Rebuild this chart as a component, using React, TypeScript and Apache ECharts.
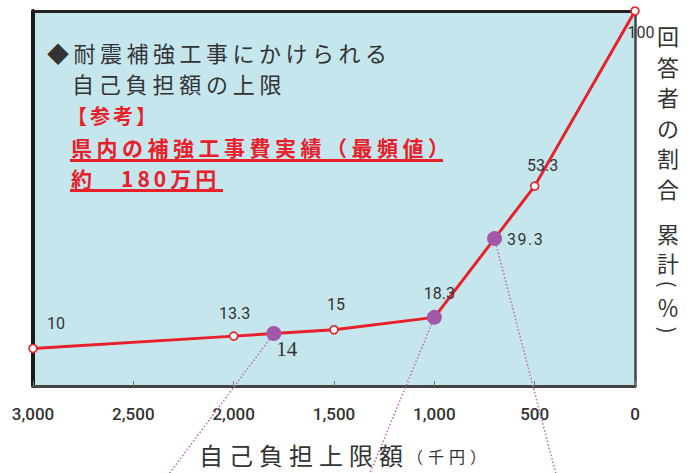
import React, { useEffect, useRef } from "react";
import * as echarts from "echarts";

// 自己負担上限額（千円）ごとの回答者の割合の累計（%）
const limitAmounts = [3000, 2000, 1500, 1000, 500, 0];
const cumulativeShares = [10, 13.3, 15, 18.3, 53.3, 100];

// 紫の丸で示す点
const markedAmounts = [1800, 1000, 700];
const markedShares = [14, 18.3, 39.3];
const markedLabels = ["14", "", "39.3"];

// 横軸の目盛
const axisMin = 0;
const axisMax = 3000;
const axisStep = 500;

// 見出し・注記・軸名
const titleLines = ["◆耐震補強工事にかけられる", "自己負担額の上限"];
const noteLines = ["【参考】", "県内の補強工事費実績（最頻値）", "約　180万円"];
const xAxisTitle = "自己負担上限額";
const xAxisUnit = "（千円）";
const yAxisTitleMain = "回答者の割合";
const yAxisTitleSub = "累計";
const yAxisTitleUnit = ["(", "％", ")"];

const RED = "#e8202a";
const PURPLE = "#a357a8";
const LEADER = "#b86dc0";
const INK = "#333333";
const PLOT_BG = "#c6e6ee";
const JP = "'Noto Sans CJK JP', sans-serif";
const NUM = "Roboto, 'Liberation Sans', sans-serif";
const SERIF = "'Liberation Serif', 'DejaVu Serif', serif";

// ラベルの位置（点の中心からのずれ）
const lineLabelOffsets = [
  [23, -25],
  [1, -23],
  [2, -25],
  [5, -24],
  [8, -21],
  [6, 21],
];
const markedLabelOffsets = [
  [13, 15],
  [0, 0],
  [31, 1],
];

// 引き出し線の終点（画面下端の外側）
const leaderEnds = [
  [166, 478],
  [368, 478],
  [557, 478],
];

// 縦書き単位（括弧は 90° 回して縦組みの形にする）
const unitCentersY = [284, 306, 330];
const unitRotation = [-Math.PI / 2, 0, -Math.PI / 2];
const unitFontSize = [20, 22, 20];

// 字間（SVG の letter-spacing）
const letterSpacing: Record<string, number> = {
  [titleLines[0]]: 4.5,
  [titleLines[1]]: 4.8,
  [noteLines[0]]: 3,
  [noteLines[1]]: 4.5,
  [noteLines[2]]: 4,
  [xAxisTitle]: 6,
  [xAxisUnit]: 5,
  "39.3": 1.5,
};

const vertical = (s: string) => Array.from(s).join("\n");

function buildOption(): echarts.EChartsOption {
  const lineData = limitAmounts.map((a, i) => ({
    value: [a, cumulativeShares[i]],
    label: { offset: lineLabelOffsets[i] },
  }));
  const markedData = markedAmounts.map((a, i) => ({
    value: [a, markedShares[i]],
    label: {
      show: markedLabels[i] !== "",
      formatter: i === 0 ? `{serif|${markedLabels[i]}}` : markedLabels[i],
      offset: markedLabelOffsets[i],
    },
  }));

  const frameAxis = (color: string, width: number) => ({
    show: true,
    onZero: false,
    lineStyle: { color, width },
  });

  return {
    animation: false,
    backgroundColor: "#ffffff",
    grid: {
      left: 33,
      right: 60,
      top: 11,
      bottom: 87,
      show: true,
      backgroundColor: PLOT_BG,
      borderWidth: 0,
    },
    xAxis: [
      {
        type: "value",
        min: axisMin,
        max: axisMax,
        interval: axisStep,
        inverse: true,
        position: "bottom",
        axisLine: frameAxis("#444", 3),
        axisTick: { show: true, inside: true, length: 5, lineStyle: { color: "#777", width: 1 } },
        axisLabel: {
          margin: 19,
          fontSize: 17,
          fontWeight: 500,
          fontFamily: NUM,
          color: INK,
          formatter: (v: number) => v.toLocaleString("en-US"),
        },
        splitLine: { show: false },
      },
      {
        type: "value",
        min: axisMin,
        max: axisMax,
        inverse: true,
        position: "top",
        axisLine: frameAxis("#222", 3),
        axisTick: { show: false },
        axisLabel: { show: false },
        splitLine: { show: false },
      },
    ],
    yAxis: [
      {
        type: "value",
        min: 0,
        max: 100,
        position: "left",
        axisLine: frameAxis("#1a1a1a", 4),
        axisTick: { show: false },
        axisLabel: { show: false },
        splitLine: { show: false },
      },
      {
        type: "value",
        min: 0,
        max: 100,
        position: "right",
        axisLine: frameAxis("#444", 2.5),
        axisTick: { show: false },
        axisLabel: { show: false },
        splitLine: { show: false },
      },
    ],
    series: [
      {
        type: "line",
        data: lineData,
        clip: false,
        z: 3,
        symbol: "circle",
        symbolSize: 8,
        lineStyle: { color: RED, width: 3 },
        itemStyle: { color: "#ffffff", borderColor: RED, borderWidth: 1.6 },
        label: {
          show: true,
          position: "inside",
          formatter: (p: any) => String(p.value[1]),
          fontSize: 16,
          fontFamily: NUM,
          color: INK,
        },
        emphasis: { disabled: true },
      },
      {
        type: "scatter",
        data: markedData,
        z: 4,
        symbolSize: 15,
        itemStyle: { color: PURPLE, opacity: 1 },
        label: {
          position: "inside",
          color: INK,
          fontSize: 16,
          fontFamily: NUM,
          rich: {
            serif: { fontFamily: SERIF, fontSize: 21, color: INK },
          },
        },
        emphasis: { disabled: true },
      },
    ],
  };
}

function buildGraphics(starts: number[][]) {
  const leaders = starts.map((s, i) => ({
    type: "line",
    id: `leader-${i}`,
    z: 1,
    silent: true,
    shape: { x1: s[0], y1: s[1], x2: leaderEnds[i][0], y2: leaderEnds[i][1] },
    style: { stroke: LEADER, lineWidth: 1.5, lineDash: [1.6, 2] },
  }));

  const text = (id: string, x: number, y: number, t: string, style: any) => ({
    type: "text",
    id,
    x,
    y,
    z: 10,
    silent: true,
    style: { text: t, verticalAlign: "middle", align: "left", fontFamily: JP, ...style },
  });

  const verticalText = (id: string, y: number, t: string, lineHeight: number) => ({
    type: "text",
    id,
    x: 668,
    y,
    z: 10,
    silent: true,
    style: {
      text: vertical(t),
      align: "center",
      verticalAlign: "top",
      lineHeight,
      fontSize: 22,
      fontFamily: JP,
      fill: INK,
    },
  });

  const unitChars = yAxisTitleUnit.map((c, i) => ({
    type: "text",
    id: `y-unit-${i}`,
    x: 668,
    y: unitCentersY[i],
    rotation: unitRotation[i],
    z: 10,
    silent: true,
    style: {
      text: c,
      align: "center",
      verticalAlign: "middle",
      fontSize: unitFontSize[i],
      fontFamily: JP,
      fill: INK,
    },
  }));

  return [
    ...leaders,
    text("title-0", 47, 52, titleLines[0], { fontSize: 22, fill: INK }),
    text("title-1", 72, 83, titleLines[1], { fontSize: 22, fill: INK }),
    text("note-0", 67, 115, noteLines[0], { fontSize: 20, fontWeight: "bold", fill: RED }),
    text("note-1", 71, 147, noteLines[1], { fontSize: 21, fontWeight: "bold", fill: RED }),
    text("note-2", 71, 177.5, noteLines[2], { fontSize: 21, fontWeight: "bold", fill: RED }),
    {
      type: "line",
      id: "underline-1",
      z: 10,
      silent: true,
      shape: { x1: 70, y1: 160.5, x2: 443, y2: 160.5 },
      style: { stroke: RED, lineWidth: 3 },
    },
    {
      type: "line",
      id: "underline-2",
      z: 10,
      silent: true,
      shape: { x1: 70, y1: 190.5, x2: 223, y2: 190.5 },
      style: { stroke: RED, lineWidth: 3 },
    },
    text("x-title", 199, 454, xAxisTitle, { fontSize: 24, fill: INK }),
    text("x-unit", 407, 456, xAxisUnit, { fontSize: 16, fill: INK }),
    verticalText("y-title-0", 20, yAxisTitleMain, 30.5),
    verticalText("y-title-1", 218, yAxisTitleSub, 29),
    ...unitChars,
  ];
}

export default function App() {
  const ref = useRef<HTMLDivElement>(null);

  useEffect(() => {
    document.body.style.margin = "0";
    const el = ref.current!;
    const chart = echarts.init(el, null, { renderer: "svg" });
    chart.setOption(buildOption());

    const starts = markedAmounts.map(
      (a, i) => chart.convertToPixel({ seriesIndex: 1 }, [a, markedShares[i]]) as number[]
    );
    chart.setOption({ graphic: buildGraphics(starts) as any });

    const applySpacing = () => {
      el.querySelectorAll("text").forEach((t) => {
        const s = letterSpacing[t.textContent ?? ""];
        if (s !== undefined) t.setAttribute("letter-spacing", String(s));
      });
    };
    chart.on("rendered", applySpacing);
    applySpacing();
    const timer = window.setTimeout(applySpacing, 50);

    return () => {
      window.clearTimeout(timer);
      chart.dispose();
    };
  }, []);

  return <div ref={ref} style={{ width: 695, height: 473 }} />;
}
